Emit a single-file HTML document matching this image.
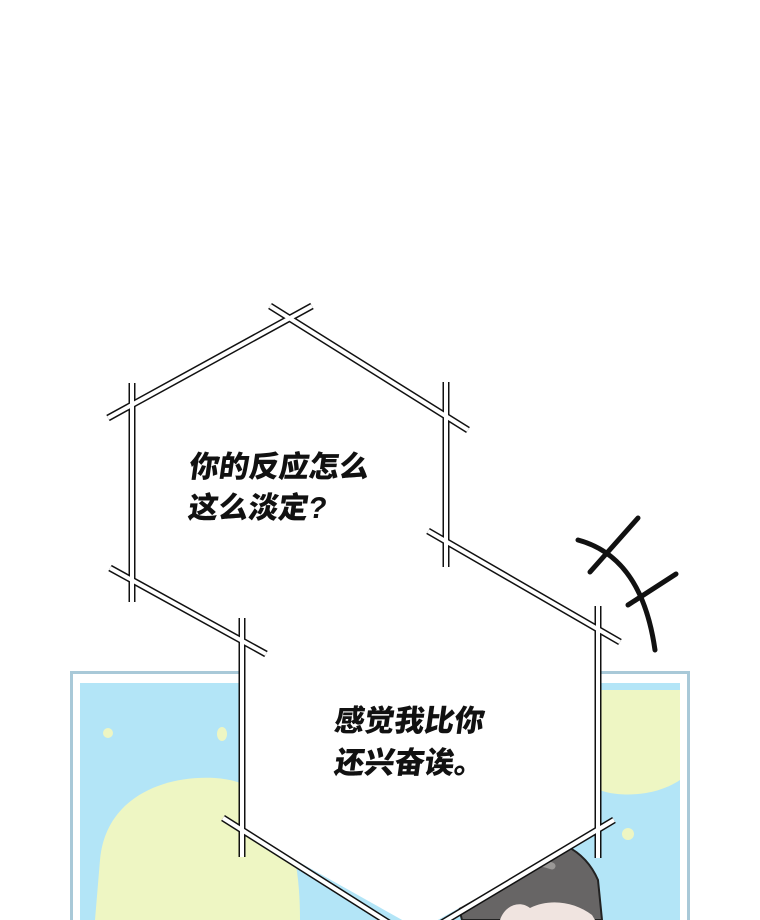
<!DOCTYPE html>
<html><head><meta charset="utf-8"><style>
html,body{margin:0;padding:0;background:#fff;}
svg{display:block}
text{font-family:"Liberation Sans","Noto Sans CJK SC",sans-serif;font-weight:900;font-size:30px;fill:#111;}
</style></head><body>
<svg width="760" height="920" viewBox="0 0 760 920" xmlns="http://www.w3.org/2000/svg">
<rect width="760" height="920" fill="#fff"/>
<rect x="70" y="671" width="620" height="260" fill="#a9c9d8"/>
<rect x="73" y="674" width="614" height="260" fill="#fff"/>
<rect x="80" y="683" width="600" height="260" fill="#b3e5f7"/>
<path d="M100 860 C105 800 160 775 215 778 C275 782 300 830 300 920 L95 920 Z" fill="#eef6c3"/>
<path d="M600 690 L680 690 L680 780 C650 800 610 795 600 790 Z" fill="#eef6c3"/>
<circle cx="108" cy="733" r="5" fill="#eef6c3"/>
<ellipse cx="222" cy="734" rx="5" ry="7" fill="#eef6c3"/>
<circle cx="163" cy="798" r="7" fill="#eef6c3"/>
<circle cx="216" cy="895" r="4" fill="#eef6c3"/>
<circle cx="628" cy="834" r="6" fill="#eef6c3"/>
<path d="M462 920 C452 885 470 848 515 840 C555 833 585 850 598 880 L602 920 Z" fill="#676565" stroke="#222" stroke-width="2"/>
<path d="M500 870 C515 860 535 860 552 866" stroke="#9a9896" stroke-width="7" fill="none" stroke-linecap="round"/>
<path d="M500 920 C505 905 520 900 530 908 C550 898 575 902 592 915 L595 920 Z" fill="#f0e4e0"/>
<polygon points="290,318 446,405 446,540 598,625 598,830 420,930 242,830 242,640 132,580 132,405" fill="#fff"/>
<g stroke-linecap="butt" fill="none">
<g stroke="#111" stroke-width="7">
<line x1="108" y1="418" x2="312" y2="306"/>
<line x1="270" y1="306" x2="468" y2="430"/>
<line x1="132" y1="383" x2="132" y2="602"/>
<line x1="446" y1="382" x2="446" y2="567"/>
<line x1="110" y1="568" x2="266" y2="654"/>
<line x1="242" y1="618" x2="242" y2="857"/>
<line x1="428" y1="531" x2="620" y2="642"/>
<line x1="598" y1="606" x2="598" y2="858"/>
<line x1="223" y1="818" x2="400" y2="930"/>
<line x1="614" y1="820" x2="430" y2="930"/>
</g>
<g stroke="#fff" stroke-width="4">
<line x1="108" y1="418" x2="312" y2="306"/>
<line x1="270" y1="306" x2="468" y2="430"/>
<line x1="132" y1="383" x2="132" y2="602"/>
<line x1="446" y1="382" x2="446" y2="567"/>
<line x1="110" y1="568" x2="266" y2="654"/>
<line x1="242" y1="618" x2="242" y2="857"/>
<line x1="428" y1="531" x2="620" y2="642"/>
<line x1="598" y1="606" x2="598" y2="858"/>
<line x1="223" y1="818" x2="400" y2="930"/>
<line x1="614" y1="820" x2="430" y2="930"/>
</g>
</g>
<g stroke="#111" stroke-width="5" fill="none" stroke-linecap="round">
<path d="M578 540 C615 550 645 580 655 650"/>
<line x1="590" y1="572" x2="638" y2="518"/>
<line x1="628" y1="605" x2="676" y2="574"/>
</g>
<g transform="skewX(-8)">
<text x="255" y="477">你的反应怎么</text>
<text x="260" y="518">这么淡定?</text>
<text x="436" y="731">感觉我比你</text>
<text x="442" y="773">还兴奋诶。</text>
</g>
</svg>
</body></html>
